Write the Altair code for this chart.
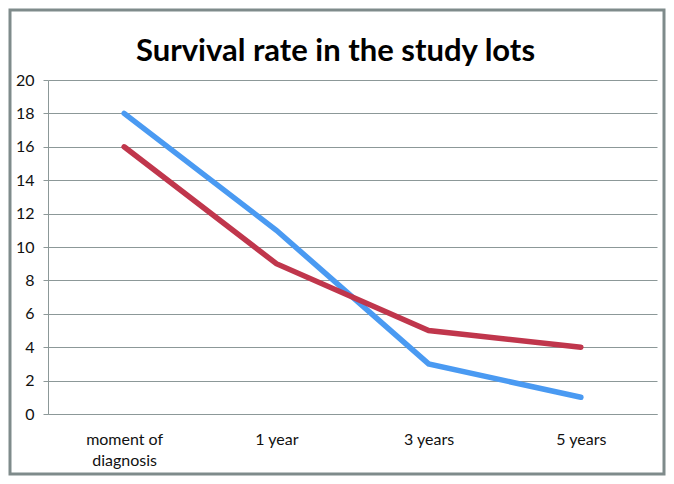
import altair as alt
import pandas as pd

categories = ["moment of diagnosis", "1 year", "3 years", "5 years"]
series_a = [18, 11, 3, 1]
series_b = [16, 9, 5, 4]
y_ticks = [0, 2, 4, 6, 8, 10, 12, 14, 16, 18, 20]

rows = []
for c, v in zip(categories, series_a):
    rows.append({"cat": c, "value": v, "series": "A"})
for c, v in zip(categories, series_b):
    rows.append({"cat": c, "value": v, "series": "B"})
df = pd.DataFrame(rows)

FONT = "Lato"
GRID = "#8c9898"

x_enc = alt.X(
    "cat:N",
    sort=categories,
    scale=alt.Scale(domain=categories, paddingInner=0, paddingOuter=0),
    axis=alt.Axis(
        title=None,
        labelAngle=0,
        ticks=False,
        domainColor=GRID,
        labelFont=FONT,
        labelFontSize=16,
        labelColor="#111111",
        labelPadding=17,
        labelExpr="datum.label == 'moment of diagnosis' ? ['moment of', 'diagnosis'] : datum.label",
        labelLineHeight=21,
    ),
)

lines = alt.Chart(df).mark_line(strokeWidth=5.5, strokeCap="round").encode(
    x=x_enc,
    y=alt.Y(
        "value:Q",
        scale=alt.Scale(domain=[0, 20]),
        axis=alt.Axis(
            title=None,
            values=y_ticks,
            grid=True,
            gridColor=GRID,
            domainColor=GRID,
            tickColor=GRID,
            tickSize=5,
            labelPadding=9,
            labelFont=FONT,
            labelFontSize=16,
            labelColor="#111111",
        ),
    ),
    color=alt.Color(
        "series:N",
        scale=alt.Scale(domain=["A", "B"], range=["#4a9af2", "#c0364c"]),
        legend=None,
    ),
    order=alt.Order("series:N", sort="descending"),
)

frame = alt.Chart(pd.DataFrame({"k": [0]})).mark_rect(
    fill=None, stroke="#7f8b8b", strokeWidth=3, clip=False
).encode(
    x=alt.value(-38), x2=alt.value(616), y=alt.value(-70), y2=alt.value(394)
)

chart = alt.layer(frame, lines).properties(
    width=609,
    height=334,
    padding={"left": 40, "top": 72, "right": 9, "bottom": 62},
    autosize=alt.AutoSizeParams(type="none"),
    title=alt.TitleParams(
        "Survival rate in the study lots",
        font=FONT,
        fontSize=31,
        fontWeight="bold",
        color="#000000",
        anchor="middle",
        baseline="alphabetic",
        dx=-17,
        offset=-83,
    ),
).configure_view(stroke=None)

chart.save("out.html", embed_options={"renderer": "svg", "actions": False})
